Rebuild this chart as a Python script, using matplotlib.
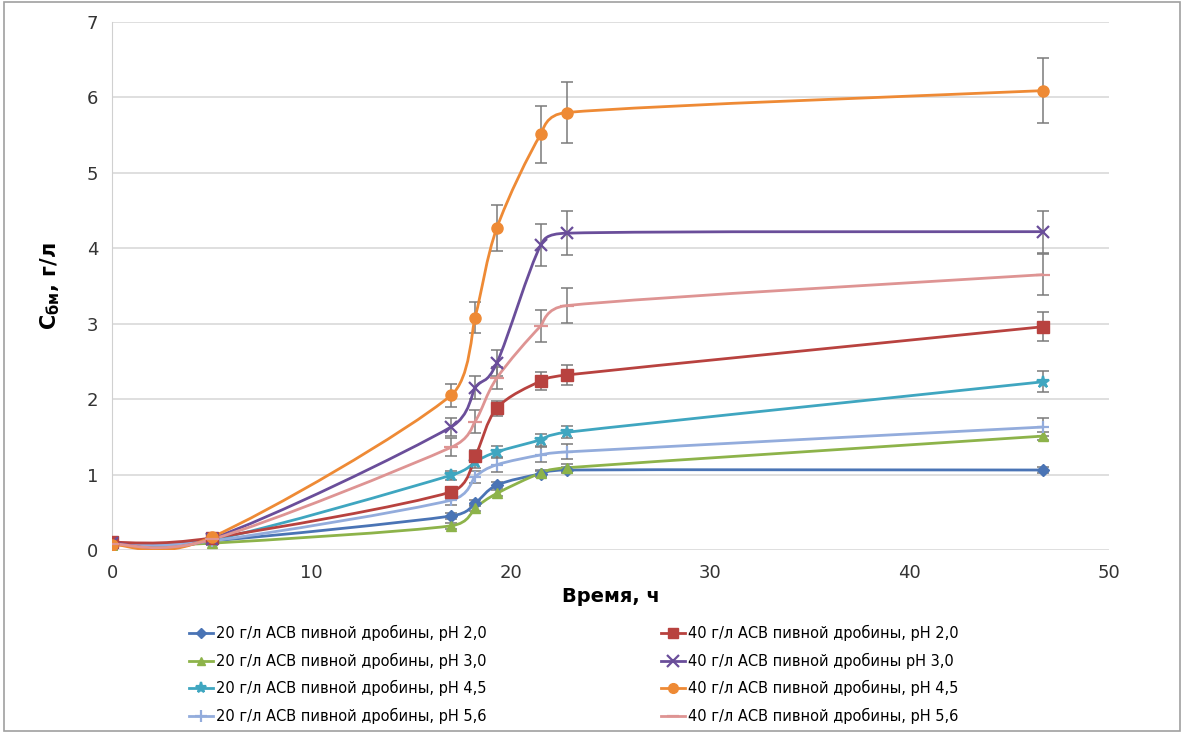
import numpy as np
import matplotlib
matplotlib.use("Agg")
import matplotlib.pyplot as plt
from matplotlib.path import Path
from matplotlib.patches import PathPatch, Rectangle
from matplotlib.lines import Line2D

# Время отбора проб, ч
time_h = [0, 5, 17, 18.2, 19.3, 21.5, 22.8, 46.7]

# Концентрация биомассы, г/л
c_20_ph20 = [0.08, 0.12, 0.45, 0.62, 0.86, 1.01, 1.06, 1.06]
c_20_ph30 = [0.07, 0.09, 0.32, 0.56, 0.75, 1.02, 1.09, 1.51]
c_20_ph45 = [0.09, 0.13, 0.99, 1.17, 1.30, 1.46, 1.56, 2.23]
c_20_ph56 = [0.08, 0.12, 0.66, 0.97, 1.13, 1.26, 1.30, 1.63]
c_40_ph20 = [0.10, 0.16, 0.77, 1.24, 1.88, 2.24, 2.32, 2.96]
c_40_ph30 = [0.09, 0.15, 1.63, 2.15, 2.48, 4.04, 4.20, 4.22]
c_40_ph45 = [0.07, 0.17, 2.05, 3.08, 4.27, 5.51, 5.80, 6.09]
c_40_ph56 = [0.08, 0.14, 1.36, 1.70, 2.28, 2.97, 3.24, 3.65]

# Стандартные отклонения
e_20_ph20 = [0.03, 0.03, 0.04, 0.04, 0.04, 0.04, 0.04, 0.04]
e_20_ph30 = [0.03, 0.03, 0.04, 0.04, 0.04, 0.04, 0.05, 0.05]
e_20_ph45 = [0.03, 0.03, 0.06, 0.08, 0.08, 0.08, 0.08, 0.14]
e_20_ph56 = [0.03, 0.03, 0.06, 0.08, 0.10, 0.10, 0.10, 0.12]
e_40_ph20 = [0.05, 0.05, 0.06, 0.08, 0.10, 0.12, 0.13, 0.19]
e_40_ph30 = [0.04, 0.04, 0.12, 0.15, 0.17, 0.28, 0.29, 0.28]
e_40_ph45 = [0.04, 0.05, 0.15, 0.21, 0.30, 0.38, 0.40, 0.43]
e_40_ph56 = [0.04, 0.04, 0.12, 0.15, 0.15, 0.21, 0.23, 0.27]

series = [
    ("20 г/л АСВ пивной дробины, рН 2,0", c_20_ph20, e_20_ph20, "#4A74B5", "D", 6),
    ("20 г/л АСВ пивной дробины, рН 3,0", c_20_ph30, e_20_ph30, "#8DB34A", "^", 7),
    ("20 г/л АСВ пивной дробины, рН 4,5", c_20_ph45, e_20_ph45, "#3FA6C0", "*", 9),
    ("20 г/л АСВ пивной дробины, рН 5,6", c_20_ph56, e_20_ph56, "#93ACDC", "+", 9),
    ("40 г/л АСВ пивной дробины, рН 2,0", c_40_ph20, e_40_ph20, "#B8423F", "s", 8),
    ("40 г/л АСВ пивной дробины рН 3,0", c_40_ph30, e_40_ph30, "#6A4E9A", "x", 9),
    ("40 г/л АСВ пивной дробины, рН 4,5", c_40_ph45, e_40_ph45, "#EE8A35", "o", 8),
    ("40 г/л АСВ пивной дробины, рН 5,6", c_40_ph56, e_40_ph56, "#DE9493", "_", 10),
]


def smooth_path(xs, ys):
    """Сглаженная линия как в Excel: кубические Безье через все точки."""
    p = np.column_stack([xs, ys]).astype(float)
    n = len(p)
    # касательные в узлах
    tang = []
    for i in range(n):
        a = p[max(i - 1, 0)]
        b = p[min(i + 1, n - 1)]
        tang.append((b - a) / 6.0)
    verts = [p[0]]
    codes = [Path.MOVETO]
    for i in range(n - 1):
        dx = p[i + 1][0] - p[i][0]
        t1 = tang[i].copy()
        t2 = tang[i + 1].copy()
        # укорачиваем касательные, чтобы кривая не возвращалась назад по времени
        s = t1[0] + t2[0]
        if s > dx * 0.95:
            k = dx * 0.95 / s
            t1 *= k
            t2 *= k
        verts += [p[i] + t1, p[i + 1] - t2, p[i + 1]]
        codes += [Path.CURVE4] * 3
    return Path(verts, codes)


fig = plt.figure(figsize=(11.84, 7.33), dpi=100)
ax = fig.add_axes([0.0946, 0.2497, 0.8421, 0.7203])

handles = []
for label, vals, errs, color, marker, ms in series:
    ax.errorbar(time_h, vals, yerr=errs, fmt="none", ecolor="#7A7A7A",
                elinewidth=1.1, capsize=4, capthick=1.1, zorder=2)
    ax.add_patch(PathPatch(smooth_path(time_h, vals), facecolor="none",
                           edgecolor=color, lw=2.0, zorder=3))
    mew = 1.6 if marker in ("x", "+", "_", "*") else 1.0
    ax.plot(time_h, vals, linestyle="none", marker=marker, markersize=ms,
            color=color, markeredgecolor=color, markeredgewidth=mew, zorder=4)
    handles.append(Line2D([], [], color=color, lw=2.0, marker=marker,
                          markersize=ms - 1, markeredgewidth=mew, label=label))

ax.set_xlim(0, 50)
ax.set_ylim(0, 7)
ax.set_xticks(range(0, 51, 10))
ax.set_yticks(range(0, 8))
ax.grid(axis="y", color="#D9D9D9", lw=1.2)
ax.set_axisbelow(True)
for side in ("top", "right", "bottom"):
    ax.spines[side].set_visible(False)
ax.spines["left"].set_color("#D0D0D0")
ax.tick_params(length=0, labelsize=13, labelcolor="#333333", pad=10)

ax.set_xlabel("Время, ч", fontsize=14, fontweight="bold", labelpad=4)
ax.set_ylabel(r"$\mathbf{C_{бм}}$, г/л", fontsize=15, fontweight="bold", labelpad=18)

fig.legend(handles=handles, ncol=2, loc="upper left",
           bbox_to_anchor=(0.155, 0.155), frameon=False, fontsize=10.5,
           handlelength=1.6, handletextpad=0.2, columnspacing=12.0,
           labelspacing=0.78, borderaxespad=0)

# рамка области диаграммы
fig.patches.append(Rectangle((0.003, 0.003), 0.994, 0.994, transform=fig.transFigure,
                             fill=False, edgecolor="#A0A0A0", lw=1.2))

fig.savefig("out.png", dpi=100)
